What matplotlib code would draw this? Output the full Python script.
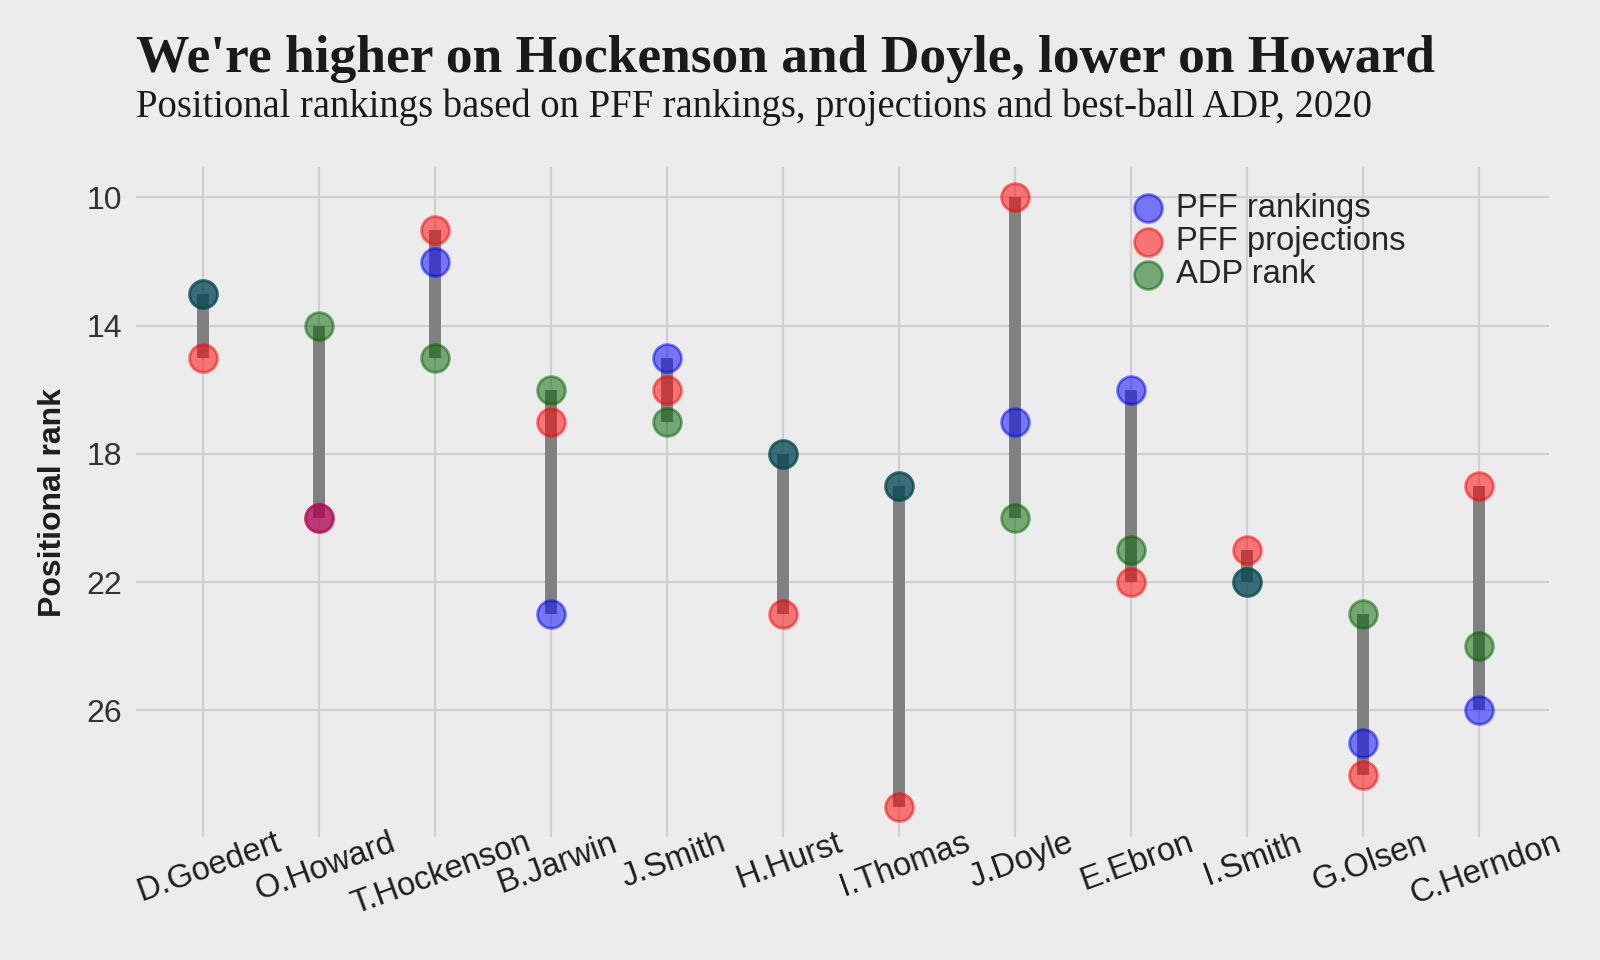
import numpy as np
import matplotlib
matplotlib.use('Agg')
import matplotlib.pyplot as plt
import matplotlib.transforms as mtransforms

plt.style.use('fivethirtyeight')

# Data :

players = ['D.Goedert', 'O.Howard', 'T.Hockenson', 'B.Jarwin', 'J.Smith', 'H.Hurst',
           'I.Thomas', 'J.Doyle', 'E.Ebron', 'I.Smith', 'G.Olsen', 'C.Herndon']
pff_rank = [13, 20, 12, 23, 15, 18, 19, 17, 16, 22, 27, 26]
pff_proj = [15, 20, 11, 17, 16, 23, 29, 10, 22, 21, 28, 19]
adp_rank = [13, 14, 15, 16, 17, 18, 19, 20, 21, 22, 23, 24]

x = np.arange(len(players))
low = np.minimum(np.minimum(pff_rank, pff_proj), adp_rank)
high = np.maximum(np.maximum(pff_rank, pff_proj), adp_rank)

# Plotting :

fig = plt.figure(figsize=(16, 9.6), dpi=100)
fig.patch.set_facecolor('#ececec')
ax = fig.add_axes([0.085, 0.128, 0.883, 0.698])
ax.set_facecolor('#ececec')
for s in ax.spines.values():
    s.set_visible(False)

ax.vlines(x, low, high, color='gray', linewidth=8.6, zorder=2, capstyle='butt')

ax.scatter(x, pff_rank, s=400, color='blue', alpha=0.5, edgecolors='blue', linewidths=2, zorder=3, label='PFF rankings')
ax.scatter(x, pff_proj, s=400, color='red', alpha=0.5, edgecolors='red', linewidths=2, zorder=3, label='PFF projections')
ax.scatter(x, adp_rank, s=400, color='darkgreen', alpha=0.5, edgecolors='darkgreen', linewidths=2, zorder=3, label='ADP rank')

ax.set_xticks(x)
ax.set_xticklabels(players, rotation=20, fontsize=23.5, family='Liberation Sans', color='#1e1e1e')
ax.set_yticks([10, 14, 18, 22, 26])
ax.tick_params(axis='y', labelsize=23, pad=10, length=0, labelcolor='#333333')
ax.tick_params(axis='x', pad=-7, length=0)
for t in ax.get_yticklabels():
    t.set_family('Liberation Sans')
ax.set_xlim(-0.58, 11.6)
ax.set_ylim(29.95, 9.05)
ax.grid(color='#d0d0d0', linewidth=1.5)

# nudge the rotated names a little to the right
shift = mtransforms.ScaledTranslation(6 / 100, 0, fig.dpi_scale_trans)
for t in ax.get_xticklabels():
    t.set_transform(t.get_transform() + shift)

# Labeling :

ax.set_ylabel('Positional rank', fontsize=23, fontweight='bold', family='Liberation Sans', color='#1e1e1e')
ax.yaxis.set_label_coords(-0.048, 0.5)

fig.text(0.085, 0.9255, "We're higher on Hockenson and Doyle, lower on Howard",
         fontsize=38.5, fontweight='bold', family='Liberation Serif', color='#1a1a1a')
fig.text(0.085, 0.878, 'Positional rankings based on PFF rankings, projections and best-ball ADP, 2020',
         fontsize=27.8, family='Liberation Serif', color='#1a1a1a')

leg = ax.legend(loc='upper left', bbox_to_anchor=(1123.5 / 1600, 1 - 193 / 960), bbox_transform=fig.transFigure,
                frameon=False, handlelength=1.5, handletextpad=0.1, labelspacing=0.065,
                borderpad=0, borderaxespad=0, prop={'family': 'Liberation Sans', 'size': 23.6})
for t in leg.get_texts():
    t.set_color('#262626')

fig.savefig('out.png', dpi=100, facecolor=fig.get_facecolor())
